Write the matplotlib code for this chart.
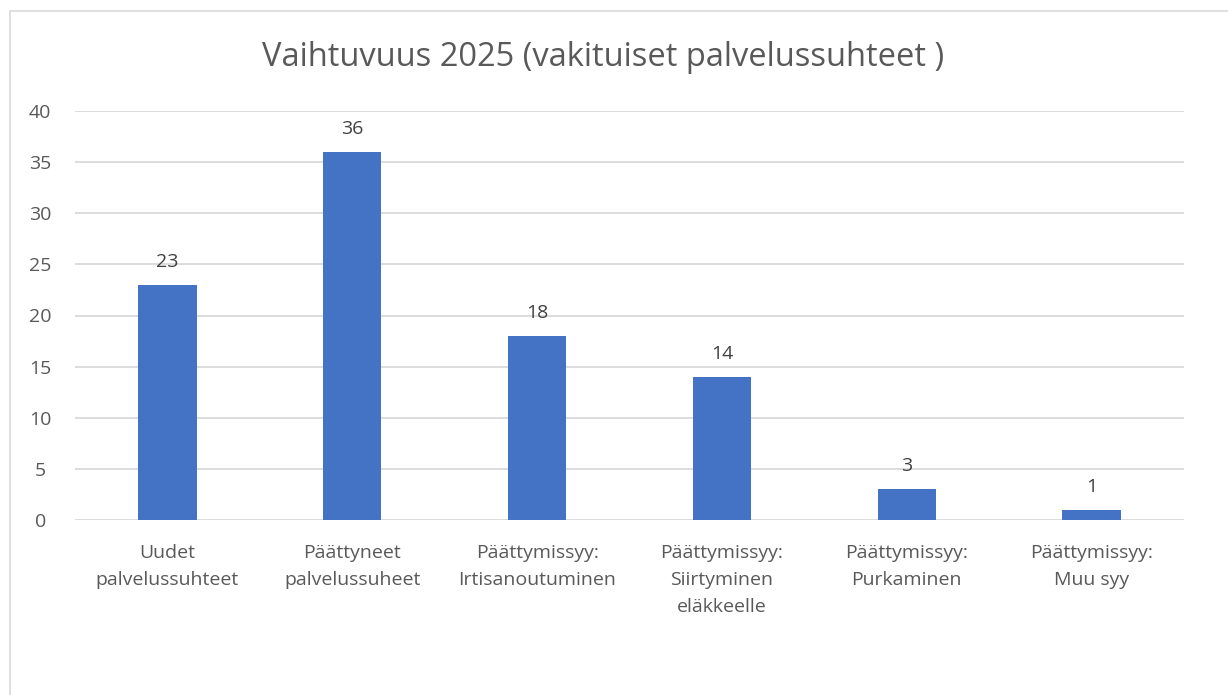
import matplotlib
matplotlib.use("Agg")
import matplotlib.pyplot as plt
from matplotlib.patches import Rectangle

categories = ["Uudet\npalvelussuhteet", "Päättyneet\npalvelussuheet",
              "Päättymissyy:\nIrtisanoutuminen", "Päättymissyy:\nSiirtyminen\neläkkeelle",
              "Päättymissyy:\nPurkaminen", "Päättymissyy:\nMuu syy"]
values = [23, 36, 18, 14, 3, 1]
yticks = [0, 5, 10, 15, 20, 25, 30, 35, 40]
title = "Vaihtuvuus 2025 (vakituiset palvelussuhteet )"

plt.rcParams['font.family'] = ['Open Sans', 'DejaVu Sans']
txt = '#595959'

fig = plt.figure(figsize=(12.28, 6.95), dpi=100)
fig.patches.append(Rectangle((10/1228, -0.1), 1.2, 1.1 - 11/695, transform=fig.transFigure,
                             fill=False, edgecolor='#D9D9D9', linewidth=1.2))
ax = fig.add_axes([75/1228, 1-520/695, (1184-75)/1228, (520-111)/695])
x = list(range(len(categories)))
ax.bar(x, values, width=0.315, color='#4472C4', zorder=3)
ax.set_xlim(-0.5, len(categories)-0.5)
ax.set_ylim(0, 40)
ax.set_yticks(yticks)
ax.yaxis.grid(True, color='#D9D9D9', linewidth=1.3, zorder=0)
for s in ax.spines.values():
    s.set_visible(False)
ax.tick_params(axis='both', length=0, colors=txt, labelsize=14)
ax.tick_params(axis='x', pad=17)
ax.set_xticks(x)
ax.set_xticklabels(categories, color=txt, fontsize=14, linespacing=1.65)
for lbl in ax.get_yticklabels():
    lbl.set_horizontalalignment('center')
ax.tick_params(axis='y', pad=25)
for xi, v in zip(x, values):
    ax.annotate(str(v), (xi, v), xytext=(0, 10), textcoords='offset points',
                ha='center', va='bottom', color='#404040', fontsize=14)
fig.text(0.5 * (262 + 945) / 1228, 1 - 57/695, title, ha='center', va='center',
         fontsize=23.5, color=txt)
fig.savefig('out.png', dpi=100)
